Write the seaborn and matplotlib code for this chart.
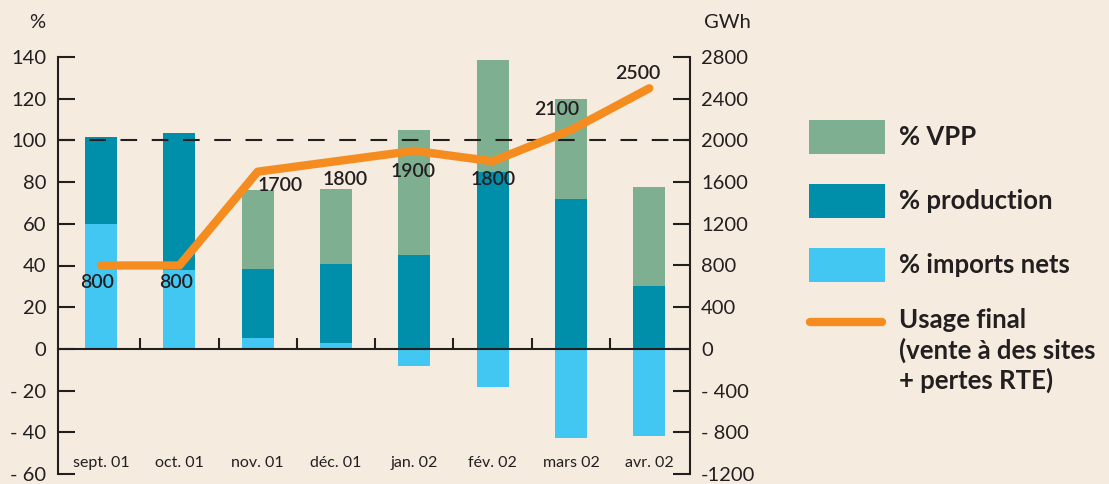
import numpy as np
import pandas as pd
import seaborn as sns
import matplotlib.pyplot as plt
from matplotlib.patches import Rectangle
from matplotlib.lines import Line2D

# data
months = ["sept. 01", "oct. 01", "nov. 01", "déc. 01", "jan. 02", "fév. 02", "mars 02", "avr. 02"]
imports_pct = [60, 38, 5.4, 2.6, -8, -18.5, -42.5, -42]
production_pct = [41.6, 65.5, 33.1, 38.1, 45, 85, 72, 30]
vpp_pct = [0, 0, 37.7, 36, 60, 53.5, 48, 47.7]
usage_gwh = [800, 800, 1700, 1800, 1900, 1800, 2100, 2500]

left_ticks = [-60, -40, -20, 0, 20, 40, 60, 80, 100, 120, 140]
left_labels = ["- 60", "- 40", "- 20", "0", "20", "40", "60", "80", "100", "120", "140"]
right_ticks = [-1200, -800, -400, 0, 400, 800, 1200, 1600, 2000, 2400, 2800]
right_labels = ["-1200", "- 800", "- 400", "0", "400", "800", "1200", "1600", "2000", "2400", "2800"]

BG = "#F6EBDF"
C_VPP = "#7FAF91"
C_PROD = "#008FAA"
C_IMP = "#42C6F2"
C_LINE = "#F58C1F"
INK = "#231F20"

sns.set_style("ticks")
plt.rcParams["font.family"] = ["Lato", "DejaVu Sans"]

df = pd.DataFrame({
    "month": months,
    "imports": imports_pct,
    "production": production_pct,
    "vpp": vpp_pct,
    "usage": usage_gwh,
})
df["x"] = np.arange(len(df))
df["prod_base"] = df["imports"].clip(lower=0)
df["vpp_base"] = df["prod_base"] + df["production"]

W, H = 1109, 484
fig = plt.figure(figsize=(W / 100, H / 100), dpi=100, facecolor=BG)
ax = fig.add_axes([58 / W, 1 - 474 / H, 632 / W, 417 / H])
ax.set_facecolor(BG)

bar_w = 0.41
sns.barplot(data=df, x="month", y="imports", color=C_IMP, saturation=1,
            width=bar_w, ax=ax, linewidth=0, zorder=2)
sns.barplot(data=df, x="month", y="production", color=C_PROD, saturation=1,
            width=bar_w, ax=ax, linewidth=0, bottom=df["prod_base"].values, zorder=2)
sns.barplot(data=df, x="month", y="vpp", color=C_VPP, saturation=1,
            width=bar_w, ax=ax, linewidth=0, bottom=df["vpp_base"].values, zorder=2)

ax.axhline(100, color=INK, lw=1.5, ls=(0, (8, 7)), zorder=3)

ax.set_xlim(-0.55, len(months) - 0.48)
ax.set_ylim(-60, 140)
ax.set_yticks(left_ticks)
ax.set_yticklabels(left_labels)
ax.set_xticks(np.arange(len(months) - 1) + 0.5)
ax.set_xticklabels([])
ax.set_xlabel("")
ax.set_ylabel("")
ax.spines["bottom"].set_position(("data", 0))
ax.spines["top"].set_visible(False)
ax.spines["right"].set_visible(False)
for s in ["left", "bottom"]:
    ax.spines[s].set_linewidth(1.5)
    ax.spines[s].set_color(INK)
ax.tick_params(axis="y", direction="in", length=12.5, width=1.5, pad=8.5,
               labelsize=14.5, colors=INK)
ax.tick_params(axis="x", direction="in", length=8, width=1.5, colors=INK)

for i, m in enumerate(months):
    ax.text(i, -54.5, m, ha="center", va="center", fontsize=11.5, color=INK)

ax2 = ax.twinx()
ax2.set_position(ax.get_position())
sns.lineplot(data=df, x="x", y="usage", ax=ax2, color=C_LINE, lw=6,
             solid_capstyle="round", solid_joinstyle="round", zorder=4)
ax2.set_ylim(-1200, 2800)
ax2.set_yticks(right_ticks)
ax2.set_yticklabels(right_labels)
ax2.set_xlabel("")
ax2.set_ylabel("")
for s in ["top", "left", "bottom"]:
    ax2.spines[s].set_visible(False)
ax2.spines["right"].set_linewidth(1.5)
ax2.spines["right"].set_color(INK)
ax2.tick_params(axis="y", direction="in", length=12.5, width=1.5, pad=8,
                labelsize=14.5, colors=INK)

# value labels next to the line (offsets in pixels)
offsets = [(-4, -17), (-3, -17), (22, -14), (9, -18), (-1, -21), (0, -18), (-14, 20), (-12, 15)]
for xi, v, off in zip(df["x"], df["usage"], offsets):
    ax2.annotate(f"{v}", (xi, v), xytext=off, textcoords="offset pixels",
                 ha="center", va="center", fontsize=14, fontweight="semibold",
                 color=INK, zorder=5)

fig.text(37 / W, 1 - 22 / H, "%", ha="center", va="center", fontsize=14.5, color=INK)
fig.text(727 / W, 1 - 22 / H, "GWh", ha="center", va="center", fontsize=14.5, color=INK)

# legend drawn by hand
leg_items = [("% VPP", C_VPP, 120), ("% production", C_PROD, 184), ("% imports nets", C_IMP, 248)]
for label, col, top in leg_items:
    fig.add_artist(Rectangle((809 / W, 1 - (top + 34) / H), 76 / W, 34 / H,
                             transform=fig.transFigure, color=col, lw=0))
    fig.text(899 / W, 1 - (top + 17) / H, label, ha="left", va="center",
             fontsize=18.5, fontweight="bold", color=INK)
fig.add_artist(Line2D([810 / W, 882 / W], [1 - 322 / H, 1 - 322 / H], transform=fig.transFigure,
                      color=C_LINE, lw=6, solid_capstyle="round"))
for k, line in enumerate(["Usage final", "(vente à des sites", "+ pertes RTE)"]):
    fig.text(899 / W, 1 - (320 + 30 * k) / H, line, ha="left", va="center",
             fontsize=18.5, fontweight="bold", color=INK)

fig.savefig("out.png", dpi=100, facecolor=BG)
